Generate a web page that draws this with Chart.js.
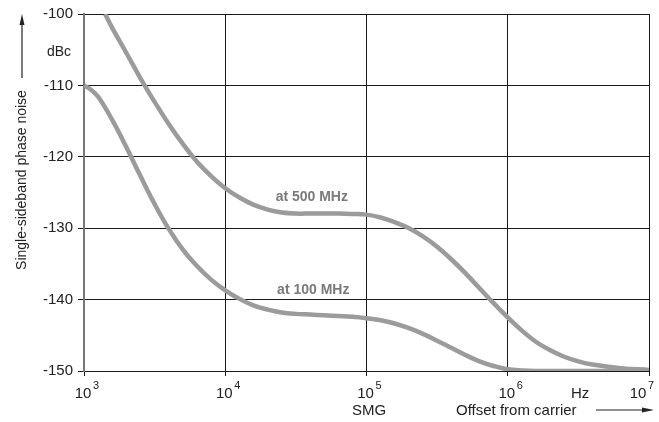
<!DOCTYPE html>
<html>
<head>
<meta charset="utf-8">
<script src="https://cdn.jsdelivr.net/npm/chart.js@4/dist/chart.umd.min.js"></script>
<style>
    html, body { margin: 0; padding: 0; background: #fff; }
    #wrap { width: 659px; height: 422px; position: relative; }
</style>
</head>
<body>
<div id="wrap"><canvas id="noiseChart" width="659" height="422"></canvas></div>
<script>
// offset from carrier (Hz) and SSB phase noise (dBc)
const freq500 = [1.41e3, 1.58e3, 2e3, 2.51e3, 3.16e3, 3.98e3, 5.01e3, 6.31e3, 7.94e3, 1e4,
    1.26e4, 1.58e4, 2e4, 2.51e4, 3.16e4, 3.98e4, 5.01e4, 6.31e4, 7.94e4, 1e5,
    1.26e5, 1.58e5, 2e5, 2.51e5, 3.16e5, 3.98e5, 5.01e5, 6.31e5, 7.94e5, 1e6,
    1.26e6, 1.58e6, 2e6, 2.51e6, 3.16e6, 3.98e6, 6.31e6, 1e7];
const noise500 = [-100, -101.9, -105.5, -109, -112.3, -115.4, -118.2, -120.7, -122.7, -124.4,
    -125.7, -126.7, -127.4, -127.8, -127.95, -127.95, -127.95, -127.95, -128, -128.1,
    -128.5, -129.15, -130, -131.15, -132.6, -134.35, -136.3, -138.4, -140.5, -142.5,
    -144.35, -145.9, -147.1, -148, -148.65, -149.1, -149.6, -149.85];

const freq100 = [1e3, 1.12e3, 1.26e3, 1.58e3, 2e3, 2.51e3, 3.16e3, 3.98e3, 5.01e3, 6.31e3, 7.94e3, 1e4,
    1.26e4, 1.58e4, 2e4, 2.51e4, 3.16e4, 3.98e4, 5.01e4, 6.31e4, 7.94e4, 1e5,
    1.26e5, 1.58e5, 2e5, 2.51e5, 3.16e5, 3.98e5, 5.01e5, 6.31e5, 7.94e5, 1e6,
    1.58e6, 1e7];
const noise100 = [-110, -110.6, -111.6, -114.8, -118.7, -122.7, -126.6, -130.1, -133, -135.3, -137.2, -138.7,
    -139.9, -140.8, -141.4, -141.8, -142, -142.1, -142.2, -142.3, -142.4, -142.6,
    -142.9, -143.35, -144, -144.8, -145.75, -146.75, -147.75, -148.65, -149.3, -149.75,
    -150, -150];

const xTickValues = [1e3, 1e4, 1e5, 1e6, 1e7];
const xTickExponents = ['3', '4', '5', '6', '7'];
const yTickValues = [-100, -110, -120, -130, -140, -150];

const curveLabels = [
    { text: 'at 500 MHz', f: 4.1e4, db: -125.6 },
    { text: 'at 100 MHz', f: 4.2e4, db: -138.7 }
];

const FONT = "'Liberation Sans', Arial, sans-serif";
const TEXT = '#222';
const CURVE = '#9b9b9b';

const decorations = {
    id: 'decorations',
    afterDraw(chart) {
        const { ctx, chartArea, scales } = chart;
        const xs = scales.x, ys = scales.y;
        ctx.save();
        ctx.fillStyle = TEXT;
        ctx.strokeStyle = TEXT;

        // x tick labels 10^n
        const baseY = chartArea.bottom + 21;
        xTickValues.forEach((v, i) => {
            let px = xs.getPixelForValue(v);
            if (i === xTickValues.length - 1) px -= 10;
            ctx.font = '15px ' + FONT;
            ctx.textAlign = 'center';
            ctx.textBaseline = 'alphabetic';
            ctx.fillText('10', px - 1, baseY + 6);
            ctx.font = '11px ' + FONT;
            ctx.textAlign = 'left';
            ctx.fillText(xTickExponents[i], px + 9, baseY - 3);
        });

        ctx.font = '15px ' + FONT;
        ctx.textAlign = 'left';
        ctx.fillText('Hz', 571, baseY + 6);
        ctx.fillText('SMG', 352, chartArea.bottom + 44);
        ctx.fillText('Offset from carrier', 456, chartArea.bottom + 44);

        // arrow after x title
        const ay = chartArea.bottom + 39;
        ctx.lineWidth = 1.2;
        ctx.beginPath();
        ctx.moveTo(596, ay);
        ctx.lineTo(646, ay);
        ctx.stroke();
        ctx.beginPath();
        ctx.moveTo(654, ay);
        ctx.lineTo(642, ay - 2.5);
        ctx.lineTo(642, ay + 2.5);
        ctx.closePath();
        ctx.fill();

        // unit
        ctx.font = '14px ' + FONT;
        ctx.textAlign = 'right';
        ctx.textBaseline = 'middle';
        ctx.fillText('dBc', 71, 52);

        // rotated y title with arrow
        ctx.save();
        ctx.translate(22, 180);
        ctx.rotate(-Math.PI / 2);
        ctx.textAlign = 'center';
        ctx.textBaseline = 'middle';
        ctx.fillText('Single-sideband phase noise', 0, 0);
        ctx.restore();
        ctx.beginPath();
        ctx.moveTo(22, 78);
        ctx.lineTo(22, 22);
        ctx.stroke();
        ctx.beginPath();
        ctx.moveTo(22, 14);
        ctx.lineTo(19.5, 25);
        ctx.lineTo(24.5, 25);
        ctx.closePath();
        ctx.fill();

        // curve labels
        ctx.font = 'bold 14px ' + FONT;
        ctx.fillStyle = '#7a7a7a';
        ctx.textAlign = 'center';
        ctx.textBaseline = 'middle';
        curveLabels.forEach(l => {
            ctx.fillText(l.text, xs.getPixelForValue(l.f), ys.getPixelForValue(l.db));
        });
        ctx.restore();
    }
};

const lineStyle = {
    borderColor: CURVE,
    backgroundColor: 'transparent',
    borderWidth: 4.5,
    pointRadius: 0,
    tension: 0.4,
    showLine: true
};

new Chart(document.getElementById('noiseChart'), {
    type: 'scatter',
    data: {
        datasets: [
            { ...lineStyle, label: 'at 500 MHz', data: freq500.map((f, i) => ({ x: f, y: noise500[i] })) },
            { ...lineStyle, label: 'at 100 MHz', data: freq100.map((f, i) => ({ x: f, y: noise100[i] })) }
        ]
    },
    options: {
        responsive: false,
        animation: false,
        layout: { padding: { top: 13, right: 10, left: 0, bottom: 0 } },
        plugins: {
            legend: { display: false },
            tooltip: { enabled: false }
        },
        scales: {
            x: {
                type: 'logarithmic',
                min: 1e3,
                max: 1e7,
                afterBuildTicks: s => { s.ticks = xTickValues.map(v => ({ value: v })); },
                afterFit: s => { s.height = 51; },
                ticks: { display: false },
                grid: { color: '#1a1a1a', lineWidth: 1, tickLength: 5, drawTicks: true },
                border: { color: '#1a1a1a', width: 1 }
            },
            y: {
                type: 'linear',
                min: -150,
                max: -100,
                afterBuildTicks: s => { s.ticks = yTickValues.map(v => ({ value: v })); },
                afterFit: s => { s.width = 84; },
                ticks: {
                    color: TEXT,
                    padding: 5,
                    font: { family: FONT, size: 15 }
                },
                grid: { color: '#1a1a1a', lineWidth: 1, tickLength: 6 },
                border: { color: '#777', width: 2 }
            }
        }
    },
    plugins: [decorations]
});
</script>
</body>
</html>
